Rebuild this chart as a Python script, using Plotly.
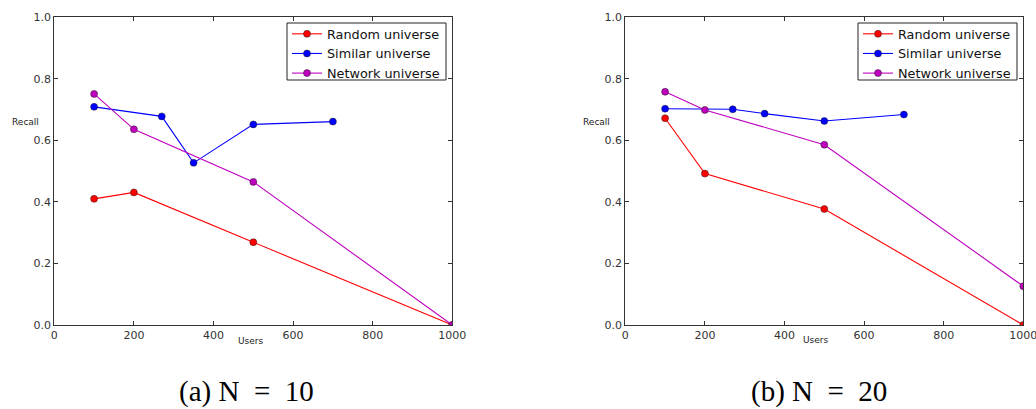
import plotly.graph_objects as go

series_names = ["Random universe", "Similar universe", "Network universe"]
colors = ["#ff0000", "#0000ff", "#bf00bf"]

# (a) N = 10
a_random_x = [100, 200, 500, 1000]
a_random_y = [0.41, 0.431, 0.269, 0.0]
a_similar_x = [100, 270, 350, 500, 700]
a_similar_y = [0.709, 0.678, 0.527, 0.652, 0.661]
a_network_x = [100, 200, 500, 1000]
a_network_y = [0.751, 0.636, 0.465, 0.0]

# (b) N = 20
b_random_x = [100, 200, 500, 1000]
b_random_y = [0.672, 0.492, 0.377, 0.0]
b_similar_x = [100, 270, 350, 500, 700]
b_similar_y = [0.703, 0.701, 0.687, 0.663, 0.684]
b_network_x = [100, 200, 500, 1000]
b_network_y = [0.758, 0.699, 0.586, 0.126]

x_ticks = [0, 200, 400, 600, 800, 1000]
y_ticks = [0.0, 0.2, 0.4, 0.6, 0.8, 1.0]
captions = ["(a) N\u00a0\u00a0=\u00a0\u00a010", "(b) N\u00a0\u00a0=\u00a0\u00a020"]

W, H = 1036, 409
fig = go.Figure()

panels = [
    ("x", "y", "legend", [(a_random_x, a_random_y), (a_similar_x, a_similar_y), (a_network_x, a_network_y)]),
    ("x2", "y2", "legend2", [(b_random_x, b_random_y), (b_similar_x, b_similar_y), (b_network_x, b_network_y)]),
]
for xa, ya, lg, data in panels:
    for (xs, ys), name, c in zip(data, series_names, colors):
        fig.add_trace(go.Scatter(
            x=xs, y=ys, name=name, mode="lines+markers", xaxis=xa, yaxis=ya, legend=lg,
            line=dict(color=c, width=1.1),
            marker=dict(color=c, size=7, line=dict(color="#222222", width=0.5)),
        ))

def px_x(p):
    return p / W

def px_y(p):
    return 1 - p / H

ax_common = dict(
    showgrid=False, zeroline=False, showline=True, linecolor="#333333", linewidth=1,
    mirror="allticks", ticks="inside", ticklen=4, tickcolor="#333333", automargin=False,
    ticklabeloverflow="allow",
    tickfont=dict(family="DejaVu Sans", size=11, color="#333333"),
)
yd = [px_y(325), px_y(17.3)]
leg_common = dict(xanchor="right", yanchor="top", borderwidth=0,
                  bgcolor="rgba(0,0,0,0)", font=dict(family="DejaVu Sans", size=12.8, color="#111111"),
                  tracegroupgap=0, itemwidth=30)
fig.update_layout(
    width=W, height=H, margin=dict(l=0, r=0, t=0, b=0, pad=0, autoexpand=False),
    plot_bgcolor="white", paper_bgcolor="white",
    xaxis=dict(domain=[px_x(54.3), px_x(452.3)], range=[0, 1000], tickvals=x_ticks,
               ticktext=[str(v) for v in x_ticks], anchor="y", **ax_common),
    yaxis=dict(domain=yd, range=[0, 1], tickvals=y_ticks,
               ticktext=[f"{v:.1f}" for v in y_ticks], anchor="x", **ax_common),
    xaxis2=dict(domain=[px_x(625.3), px_x(1023.3)], range=[0, 1000], tickvals=x_ticks,
                ticktext=[str(v) for v in x_ticks], anchor="y2", **ax_common),
    yaxis2=dict(domain=yd, range=[0, 1], tickvals=y_ticks,
                ticktext=[f"{v:.1f}" for v in y_ticks], anchor="x2", **ax_common),
    legend=dict(x=px_x(445), y=px_y(19), **leg_common),
    legend2=dict(x=px_x(1016), y=px_y(19), **leg_common),
    showlegend=True,
)

# legend frames (matplotlib-style box)
for x0, x1 in [(287, 446), (858, 1017)]:
    fig.add_shape(type="rect", xref="paper", yref="paper",
                  x0=px_x(x0), x1=px_x(x1), y0=px_y(80), y1=px_y(23),
                  line=dict(color="#222222", width=1), fillcolor="white", layer="below")

ann = []
def label(text, cx, cy, size, family, color):
    ann.append(dict(text=text, x=px_x(cx), y=px_y(cy), xref="paper", yref="paper",
                    xanchor="center", yanchor="middle", showarrow=False,
                    font=dict(family=family, size=size, color=color)))

for cx, cy in [(25, 121.5), (596, 121.5)]:
    label("Recall", cx, cy, 9, "DejaVu Sans", "#222222")
for cx, cy in [(250.5, 341), (815.7, 339.5)]:
    label("Users", cx, cy, 9, "DejaVu Sans", "#222222")
for cx, cap in zip([246.5, 819], captions):
    label(cap, cx, 391, 29, "Liberation Serif", "#000000")
fig.update_layout(annotations=ann)

fig.write_html("out.html")
